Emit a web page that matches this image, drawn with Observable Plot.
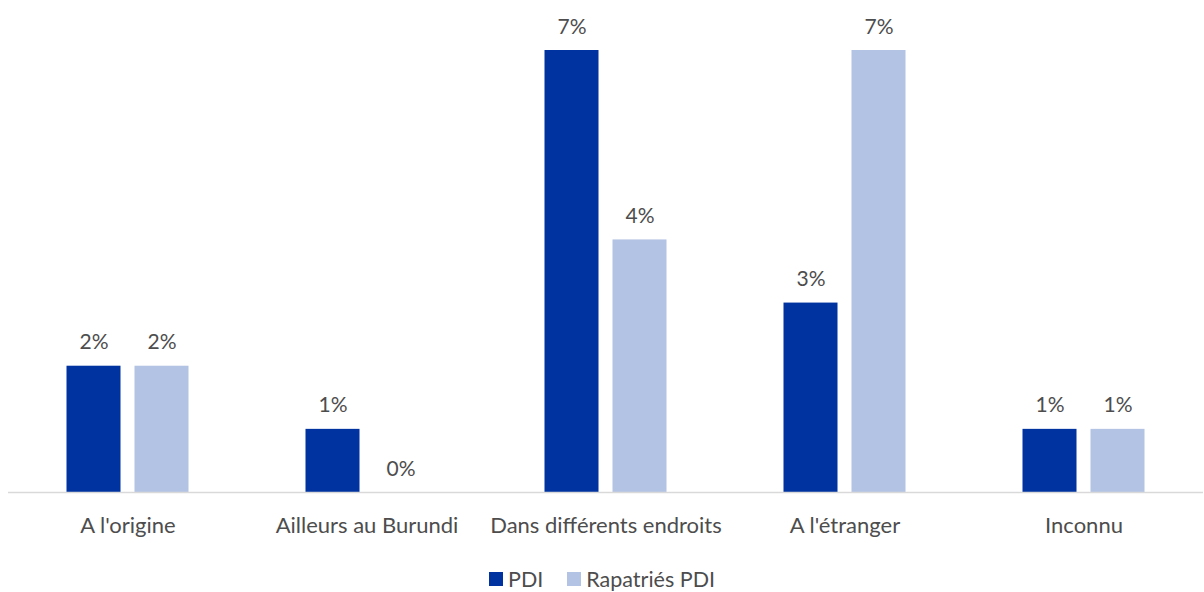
<!DOCTYPE html>
<html>
<head>
<meta charset="utf-8">
<script src="https://cdn.jsdelivr.net/npm/d3@7"></script>
<script src="https://cdn.jsdelivr.net/npm/@observablehq/plot@0.6"></script>
<style>
  body { margin: 0; background: #fff; font-family: Lato, "Open Sans", sans-serif; }
  #legend { display: flex; justify-content: center; align-items: center; gap: 24px; height: 50px; margin-top: -1px; font-size: 21.5px; color: #4d4d4d; }
  #legend .item { display: flex; align-items: center; gap: 5px; }
  #legend .sw { width: 14px; height: 14px; display: inline-block; }
</style>
</head>
<body>
<div id="chart"></div>
<div id="legend"></div>
<script>
const categories = ["A l'origine", "Ailleurs au Burundi", "Dans différents endroits", "A l'étranger", "Inconnu"];
const series = ["PDI", "Rapatriés PDI"];
const pdiValues = [2, 1, 7, 3, 1];
const rapatriesValues = [2, 0, 4, 7, 1];
const colors = ["#0033A0", "#B3C3E3"];

const data = [];
categories.forEach((c, i) => {
  data.push({category: c, series: series[0], value: pdiValues[i]});
  data.push({category: c, series: series[1], value: rapatriesValues[i]});
});

const textColor = "#4d4d4d";
const chart = Plot.plot({
  width: 1204,
  height: 555,
  marginLeft: 7.5,
  marginRight: 1.5,
  marginTop: 50,
  marginBottom: 63,
  style: {fontFamily: "Lato, 'Open Sans', sans-serif", fontSize: "22px", color: textColor, background: "#fff"},
  fx: {domain: categories, padding: 0, label: null, tickSize: 0, tickPadding: 25, axis: "bottom"},
  x: {domain: series, paddingInner: 14/68, paddingOuter: 0.86, axis: null},
  y: {domain: [0, 7], axis: null},
  color: {domain: series, range: colors},
  marks: [
    Plot.barY(data, {fx: "category", x: "series", y: "value", fill: "series"}),
    Plot.ruleY([0], {stroke: "#d9d9d9", strokeWidth: 1.5}),
    Plot.text(data, {fx: "category", x: "series", y: "value", text: d => d.value + "%", lineAnchor: "bottom", dy: -17, fill: textColor, fontSize: 21})
  ]
});
document.getElementById("chart").appendChild(chart);

const legend = document.getElementById("legend");
series.forEach((s, i) => {
  const item = document.createElement("div");
  item.className = "item";
  const sw = document.createElement("span");
  sw.className = "sw";
  sw.style.background = colors[i];
  const label = document.createElement("span");
  label.textContent = s;
  item.appendChild(sw);
  item.appendChild(label);
  legend.appendChild(item);
});
</script>
</body>
</html>
